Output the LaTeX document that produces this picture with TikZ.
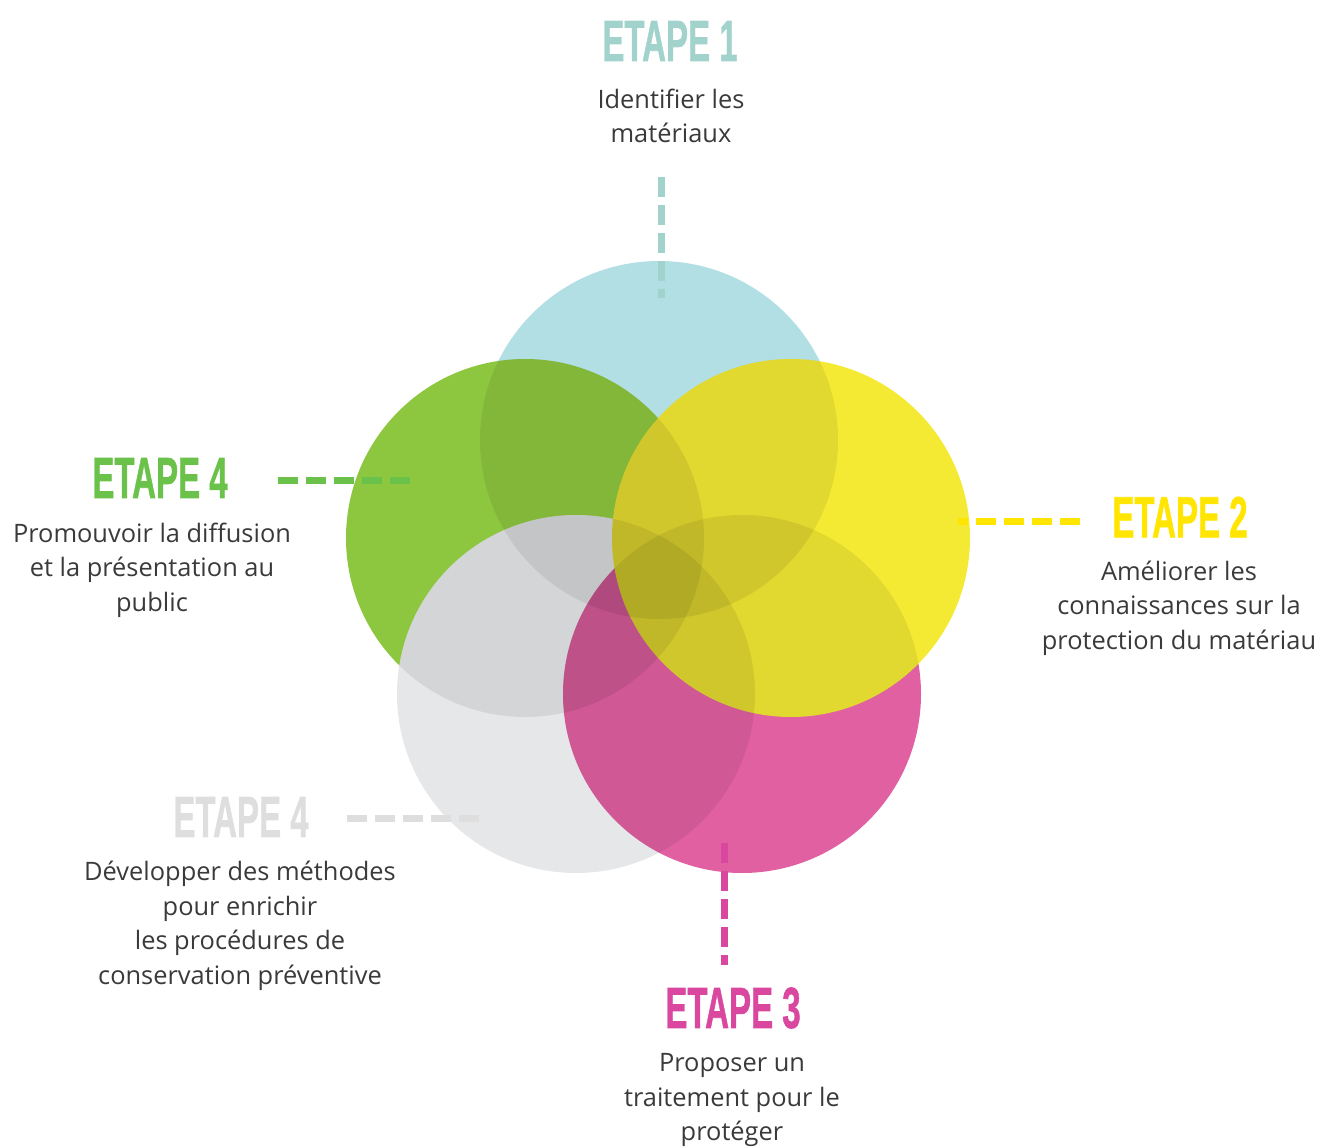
\documentclass[tikz,border=0pt]{standalone}
\usepackage{fontspec}
\setmainfont{Open Sans}
\newfontfamily\titlefont[FakeBold=1.2]{Liberation Sans}
\definecolor{cyanF}{HTML}{B1DFE4}
\definecolor{greenF}{HTML}{8DC63F}
\definecolor{grayF}{HTML}{E6E7E8}
\definecolor{pinkF}{HTML}{E060A1}
\definecolor{yellowF}{HTML}{F4EA34}
\definecolor{tealC}{HTML}{A2D2CC}
\definecolor{greenC}{HTML}{6AC24A}
\definecolor{yellowC}{HTML}{FFE500}
\definecolor{grayC}{HTML}{DEDEDE}
\definecolor{pinkC}{HTML}{D9479F}
\definecolor{textC}{HTML}{3A3A3A}
\newcommand{\ttl}[1]{\scalebox{0.57}[1]{#1}}
\begin{document}
\begin{tikzpicture}[x=1pt,y=-1pt,
  body/.style={inner sep=0pt,align=center,text=textC,font=\fontsize{25.4}{34.6}\selectfont},
  titlenode/.style={inner sep=0pt,font=\titlefont\bfseries\fontsize{58}{58}\selectfont},
  dashline/.style={line width=7pt,dash pattern=on 20pt off 8pt},
  overlapdark/.style={black,opacity=0.075},
  disc/.style={radius=179pt}]
\useasboundingbox (0,0) rectangle (1320,1147);
% circle centres
\coordinate (C1) at (659,440);
\coordinate (C2) at (791,538);
\coordinate (C3) at (742,694);
\coordinate (C4) at (525,538);
\coordinate (C5) at (576,694);
% cyan
\fill[cyanF] (C1) circle[disc];
% green
\fill[greenF] (C4) circle[disc];
\begin{scope}
  \clip (C4) circle[disc];
  \fill[overlapdark] (C1) circle[disc];
\end{scope}
% gray
\fill[grayF] (C5) circle[disc];
\begin{scope}
  \clip (C5) circle[disc];
  \fill[overlapdark] (C1) circle[disc];
  \fill[overlapdark] (C4) circle[disc];
\end{scope}
% pink
\fill[pinkF] (C3) circle[disc];
\begin{scope}
  \clip (C3) circle[disc];
  \fill[overlapdark] (C1) circle[disc];
  \fill[overlapdark] (C4) circle[disc];
  \fill[overlapdark] (C5) circle[disc];
\end{scope}
% yellow
\fill[yellowF] (C2) circle[disc];
\begin{scope}
  \clip (C2) circle[disc];
  \fill[overlapdark] (C1) circle[disc];
  \fill[overlapdark] (C4) circle[disc];
  \fill[overlapdark] (C5) circle[disc];
  \fill[overlapdark] (C3) circle[disc];
\end{scope}
% titles
\node[titlenode,text=tealC] (e1) at (670,41) {\ttl{ETAPE 1}};
\node[titlenode,text=yellowC] (e2) at (1180,517) {\ttl{ETAPE 2}};
\node[titlenode,text=pinkC] (e3) at (733,1008) {\ttl{ETAPE 3}};
\node[titlenode,text=greenC] (e4) at (160,478) {\ttl{ETAPE 4}};
\node[titlenode,text=grayC] (e5) at (241,817) {\ttl{ETAPE 4}};
% texts
\node[body] (t1) at (671,116) {Identifier les\\matériaux};
\node[body] (t2) at (1179,608) {Améliorer les\\connaissances sur la\\protection du matériau};
\node[body] (t3) at (732,1100) {Proposer un\\traitement pour le\\protéger};
\node[body] (t4) at (152,570) {Promouvoir la diffusion\\et la présentation au\\public};
\node[body] (t5) at (240,926) {Développer des méthodes\\pour enrichir\\les procédures de\\conservation préventive};
% dashed connectors
\coordinate (d1a) at (661,177); \coordinate (d1b) at (661,298);
\coordinate (d2a) at (958,521); \coordinate (d2b) at (1080,521);
\coordinate (d3a) at (724,843); \coordinate (d3b) at (724,965);
\coordinate (d4a) at (278,480); \coordinate (d4b) at (411,480);
\coordinate (d5a) at (347,818); \coordinate (d5b) at (480,818);
\draw[dashline,tealC] (d1a) -- (d1b);
\draw[dashline,yellowC] (d2b) -- (d2a);
\draw[dashline,pinkC] (d3a) -- (d3b);
\draw[dashline,greenC] (d4a) -- (d4b);
\draw[dashline,grayC] (d5a) -- (d5b);
\end{tikzpicture}
\end{document}
